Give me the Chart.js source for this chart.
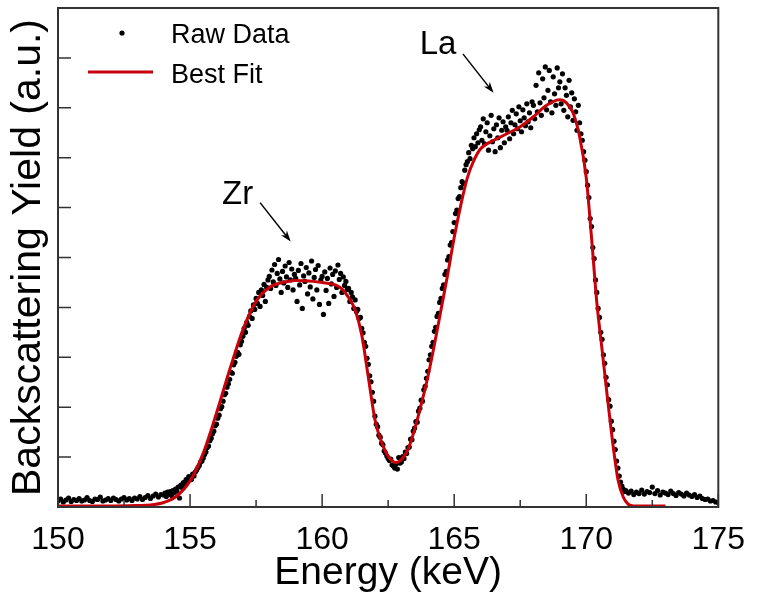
<!DOCTYPE html>
<html>
<head>
<meta charset="utf-8">
<title>RBS spectrum</title>
<script src="https://cdn.jsdelivr.net/npm/chart.js@4.4.0/dist/chart.umd.min.js"></script>
<style>
  html, body { margin: 0; padding: 0; background: #fff; }
  canvas { display: block; }
</style>
</head>
<body>
<canvas id="rbs" width="759" height="605"></canvas>
<script>
// Tick positions (keV and arbitrary yield units)
const xTickValues = [150, 155, 160, 165, 170, 175];
const xMinorTicks = [152.5, 157.5, 162.5, 167.5, 172.5];
const yTickValues = [1, 2, 3, 4, 5, 6, 7, 8, 9];

// Measured spectrum: energy (keV)
const rawEnergy = [
  150,150.1,150.2,150.3,150.4,150.5,150.6,150.7,150.8,150.9,
  151,151.1,151.2,151.3,151.4,151.5,151.6,151.7,151.8,151.9,
  152,152.1,152.2,152.3,152.4,152.5,152.6,152.7,152.8,152.9,
  153,153.1,153.2,153.3,153.4,153.5,153.6,153.7,153.8,153.9,
  154,154.05,154.1,154.15,154.2,154.25,154.3,154.35,154.4,154.45,154.5,154.55,154.6,154.65,154.7,154.75,154.8,154.85,154.9,154.95,
  155,155.05,155.1,155.15,155.2,155.25,155.3,155.35,155.4,155.45,155.5,155.55,155.6,155.65,155.7,155.75,155.8,155.85,155.9,155.95,
  156,156.05,156.1,156.15,156.2,156.25,156.3,156.35,156.4,156.45,156.5,156.55,156.6,156.65,156.7,156.75,156.8,156.85,156.9,156.95,
  157,157.05,157.1,157.15,157.2,157.25,157.3,157.35,157.4,157.45,157.5,157.55,157.6,157.65,157.7,157.75,157.8,157.85,157.9,157.95,
  158,158.05,158.1,158.15,158.2,158.25,158.3,158.35,158.4,158.45,158.5,158.55,158.6,158.65,158.7,158.75,158.8,158.85,158.9,158.95,
  159,159.05,159.1,159.15,159.2,159.25,159.3,159.35,159.4,159.45,159.5,159.55,159.6,159.65,159.7,159.75,159.8,159.85,159.9,159.95,
  160,160.05,160.1,160.15,160.2,160.25,160.3,160.35,160.4,160.45,160.5,160.55,160.6,160.65,160.7,160.75,160.8,160.85,160.9,160.95,
  161,161.05,161.1,161.15,161.2,161.25,161.3,161.35,161.4,161.45,161.5,161.55,161.6,161.65,161.7,161.75,161.8,161.85,161.9,161.95,
  162,162.05,162.1,162.15,162.2,162.25,162.3,162.35,162.4,162.45,162.5,162.55,162.6,162.65,162.7,162.75,162.8,162.85,162.9,162.95,
  163,163.05,163.1,163.15,163.2,163.25,163.3,163.35,163.4,163.45,163.5,163.55,163.6,163.65,163.7,163.75,163.8,163.85,163.9,163.95,
  164,164.05,164.1,164.15,164.2,164.25,164.3,164.35,164.4,164.45,164.5,164.55,164.6,164.65,164.7,164.75,164.8,164.85,164.9,164.95,
  165,165.05,165.1,165.15,165.2,165.25,165.3,165.35,165.4,165.45,165.5,165.55,165.6,165.65,165.7,165.75,165.8,165.85,165.9,165.95,
  166,166.05,166.1,166.15,166.2,166.25,166.3,166.35,166.4,166.45,166.5,166.55,166.6,166.65,166.7,166.75,166.8,166.85,166.9,166.95,
  167,167.05,167.1,167.15,167.2,167.25,167.3,167.35,167.4,167.45,167.5,167.55,167.6,167.65,167.7,167.75,167.8,167.85,167.9,167.95,
  168,168.05,168.1,168.15,168.2,168.25,168.3,168.35,168.4,168.45,168.5,168.55,168.6,168.65,168.7,168.75,168.8,168.85,168.9,168.95,
  169,169.05,169.1,169.15,169.2,169.25,169.3,169.35,169.4,169.45,169.5,169.55,169.6,169.65,169.7,169.75,169.8,169.85,169.9,169.95,
  170,170.05,170.1,170.15,170.2,170.25,170.3,170.35,170.4,170.45,170.5,170.55,170.6,170.65,170.7,170.75,170.8,170.85,170.9,170.95,
  171,171.05,171.1,171.15,171.2,171.25,171.3,171.35,171.4,171.45,171.5,
  171.6,171.7,171.8,171.9,172,172.1,172.2,172.3,172.4,172.5,
  172.6,172.7,172.8,172.9,173,173.1,173.2,173.3,173.4,173.5,
  173.6,173.7,173.8,173.9,174,174.1,174.2,174.3,174.4,174.5,
  174.6,174.7,174.8,174.9,175
];

// Measured spectrum: counts (a.u.)
const rawYield = [
  0.12,0.16,0.10,0.14,0.18,0.11,0.15,0.13,0.17,0.12,
  0.14,0.19,0.13,0.11,0.16,0.15,0.20,0.12,0.14,0.17,
  0.13,0.18,0.15,0.12,0.16,0.19,0.14,0.17,0.13,0.18,
  0.16,0.21,0.15,0.19,0.23,0.17,0.22,0.26,0.20,0.25,
  0.24,0.28,0.21,0.30,0.26,0.31,0.23,0.33,0.29,0.36,0.32,0.40,0.18,0.44,0.39,0.49,0.45,0.55,0.52,0.61,
  0.58,0.55,0.66,0.62,0.70,0.74,0.79,0.83,0.90,0.92,0.98,1.05,1.10,1.19,1.22,1.33,1.38,1.47,1.52,1.63,
  1.66,1.78,1.84,1.97,2.01,2.12,2.25,2.28,2.40,2.47,2.56,2.70,2.68,2.85,2.90,3.02,3.10,3.06,3.25,3.32,
  3.42,3.58,3.50,3.70,3.64,3.82,3.93,3.78,4.05,3.96,4.18,4.08,4.30,4.02,4.35,4.24,4.46,4.12,4.40,4.55,
  4.62,4.38,4.75,4.51,4.86,4.44,4.68,4.96,4.57,4.30,4.72,4.49,4.83,4.61,4.40,4.90,4.55,4.77,4.35,4.66,
  4.58,4.12,4.74,4.45,4.88,3.98,4.63,4.52,4.80,4.27,4.69,4.41,4.93,4.17,4.60,4.76,4.35,4.84,4.06,4.55,
  4.62,3.86,4.71,4.34,4.58,4.08,4.79,4.47,4.66,4.22,4.73,4.40,4.85,4.56,4.68,4.30,4.61,4.44,4.52,4.36,
  4.38,4.12,4.30,4.21,3.98,4.15,3.92,3.96,3.78,3.80,3.58,3.49,3.30,3.22,2.98,2.86,2.63,2.51,2.30,2.12,
  1.82,1.66,1.61,1.44,1.40,1.28,1.25,1.12,1.08,1.02,0.97,0.93,0.96,0.84,0.82,0.78,0.86,0.76,0.99,0.88,
  0.90,1.01,0.97,1.10,1.07,1.19,1.20,1.36,1.35,1.52,1.58,1.71,1.70,1.92,1.98,2.14,2.12,2.35,2.42,2.58,
  2.72,2.95,3.05,3.22,3.30,3.52,3.60,3.82,3.88,4.10,4.18,4.38,4.45,4.66,4.72,4.95,5.02,5.25,5.30,5.52,
  5.70,5.88,5.95,6.18,6.22,6.40,6.52,6.48,6.75,6.86,6.92,7.10,6.98,7.25,7.18,7.40,7.22,7.48,7.30,7.56,
  7.62,7.35,7.78,7.28,7.52,7.70,7.15,7.44,7.85,7.32,7.58,7.12,7.66,7.40,7.80,7.20,7.55,7.72,7.30,7.62,
  7.55,7.82,7.38,7.70,7.95,7.48,7.66,7.88,7.58,8.02,7.74,7.52,7.96,7.80,7.64,8.08,7.72,7.90,7.60,8.12,
  8.05,7.78,8.45,7.92,8.70,8.10,7.85,8.58,8.20,8.82,7.96,8.35,8.75,8.12,7.90,8.62,8.28,8.05,8.80,8.40,
  8.52,8.08,8.68,7.95,8.40,8.25,7.82,8.55,8.02,8.30,7.75,8.18,7.92,7.55,8.05,7.70,7.48,7.35,7.12,6.95,
  6.72,6.45,6.20,5.78,5.62,5.20,4.98,4.55,4.30,3.98,3.80,3.50,3.36,3.05,2.88,2.60,2.45,2.15,2.02,1.72,
  1.55,1.32,1.15,0.92,0.78,0.62,0.50,0.42,0.36,0.31,0.33,
  0.28,0.32,0.25,0.30,0.27,0.34,0.26,0.31,0.29,0.40,
  0.27,0.33,0.24,0.30,0.28,0.25,0.32,0.27,0.23,0.29,
  0.26,0.22,0.28,0.24,0.21,0.25,0.19,0.22,0.17,0.15,
  0.16,0.12,0.13,0.10,0.09
];

// Simulated best-fit spectrum
const fitEnergy = [
  150, 151, 152, 153, 153.5, 154, 154.5, 155, 155.5, 156, 156.5, 157, 157.5, 158, 158.5,
  159, 159.5, 160, 160.5, 160.75, 161, 161.25, 161.5, 161.75, 162, 162.25, 162.5, 162.8,
  163, 163.25, 163.5, 163.75, 164, 164.25, 164.5, 164.75, 165, 165.25, 165.5, 165.75,
  166, 166.5, 167, 167.5, 168, 168.5, 169, 169.25, 169.5, 169.75, 170, 170.2, 170.4,
  170.6, 170.8, 171, 171.2, 171.4, 171.6, 171.8, 172, 173
];
const fitYield = [
  0.02, 0.02, 0.02, 0.03, 0.04, 0.09, 0.22, 0.52, 1.08, 1.88, 2.75, 3.55, 4.12, 4.40, 4.50,
  4.54, 4.53, 4.50, 4.45, 4.37, 4.20, 3.95, 3.45, 2.60, 1.75, 1.30, 1.02, 0.89,
  0.95, 1.15, 1.55, 2.05, 2.60, 3.25, 3.95, 4.65, 5.40, 6.05, 6.60, 6.95,
  7.18, 7.35, 7.48, 7.62, 7.82, 8.05, 8.16, 8.10, 7.90, 7.42, 6.60, 5.40, 4.10,
  3.15, 2.20, 1.30, 0.55, 0.20, 0.05, 0.02, 0.02, 0.02
];

// Element labels with arrows (data coordinates)
const peakLabels = [
  { text: 'Zr', at: [156.80, 6.08], from: [157.65, 6.10], to: [158.81, 5.32] },
  { text: 'La', at: [164.39, 9.08], from: [165.33, 9.08], to: [166.49, 8.30] }
];

const FONT = '"Liberation Sans", Arial, Helvetica, sans-serif';
const FIT_RED = '#c8000a';
const AXIS_INK = '#333333';
const DOT_RADIUS = 2.6;

// Inward tick marks and the closed frame around the plot area
const framePlugin = {
  id: 'frame',
  afterDatasetsDraw(chart) {
    const { ctx, chartArea: a, scales: { x, y } } = chart;
    ctx.save();
    ctx.strokeStyle = AXIS_INK;
    ctx.lineWidth = 1.5;
    ctx.beginPath();
    xTickValues.forEach(v => {
      const px = x.getPixelForValue(v);
      ctx.moveTo(px, a.bottom);
      ctx.lineTo(px, a.bottom - 13);
    });
    xMinorTicks.forEach(v => {
      const px = x.getPixelForValue(v);
      ctx.moveTo(px, a.bottom);
      ctx.lineTo(px, a.bottom - 7);
    });
    yTickValues.forEach(v => {
      const py = y.getPixelForValue(v);
      ctx.moveTo(a.left, py);
      ctx.lineTo(a.left + 13, py);
    });
    ctx.stroke();
    ctx.lineWidth = 2;
    ctx.strokeRect(a.left, a.top, a.right - a.left, a.bottom - a.top);
    ctx.restore();
  }
};

// Legend box in the upper left and the peak annotations
const overlayPlugin = {
  id: 'overlay',
  afterDraw(chart) {
    const { ctx, scales: { x, y } } = chart;
    ctx.save();
    // legend
    ctx.fillStyle = '#000';
    ctx.beginPath();
    ctx.arc(122, 33, DOT_RADIUS, 0, Math.PI * 2);
    ctx.fill();
    ctx.strokeStyle = FIT_RED;
    ctx.lineWidth = 3;
    ctx.beginPath();
    ctx.moveTo(88, 72);
    ctx.lineTo(153, 72);
    ctx.stroke();
    ctx.font = `27px ${FONT}`;
    ctx.textAlign = 'left';
    ctx.textBaseline = 'alphabetic';
    ctx.fillText(chart.data.datasets[1].label, 171, 43);
    ctx.fillText(chart.data.datasets[0].label, 171, 83);

    // peak labels and arrows
    ctx.font = `33px ${FONT}`;
    ctx.textAlign = 'center';
    peakLabels.forEach(p => {
      ctx.fillStyle = '#000';
      ctx.fillText(p.text, x.getPixelForValue(p.at[0]), y.getPixelForValue(p.at[1]));
      const x0 = x.getPixelForValue(p.from[0]), y0 = y.getPixelForValue(p.from[1]);
      const x1 = x.getPixelForValue(p.to[0]), y1 = y.getPixelForValue(p.to[1]);
      const ang = Math.atan2(y1 - y0, x1 - x0);
      ctx.strokeStyle = '#000';
      ctx.lineWidth = 1.5;
      ctx.beginPath();
      ctx.moveTo(x0, y0);
      ctx.lineTo(x1 - 6 * Math.cos(ang), y1 - 6 * Math.sin(ang));
      ctx.stroke();
      const len = 11, half = 3.8;
      ctx.beginPath();
      ctx.moveTo(x1, y1);
      ctx.lineTo(x1 - len * Math.cos(ang) + half * Math.sin(ang), y1 - len * Math.sin(ang) - half * Math.cos(ang));
      ctx.lineTo(x1 - 0.7 * len * Math.cos(ang), y1 - 0.7 * len * Math.sin(ang));
      ctx.lineTo(x1 - len * Math.cos(ang) - half * Math.sin(ang), y1 - len * Math.sin(ang) + half * Math.cos(ang));
      ctx.closePath();
      ctx.fill();
    });
    ctx.restore();
  }
};

const rawPoints = rawEnergy.map((e, i) => ({ x: e, y: rawYield[i] }));
const fitPoints = fitEnergy.map((e, i) => ({ x: e, y: fitYield[i] }));

new Chart(document.getElementById('rbs'), {
  type: 'scatter',
  data: {
    datasets: [
      {
        label: 'Best Fit',
        data: fitPoints,
        showLine: true,
        borderColor: FIT_RED,
        borderWidth: 3,
        pointRadius: 0,
        cubicInterpolationMode: 'monotone',
        fill: false,
        order: 0
      },
      {
        label: 'Raw Data',
        data: rawPoints,
        backgroundColor: '#000',
        borderWidth: 0,
        pointRadius: DOT_RADIUS,
        order: 1
      }
    ]
  },
  options: {
    responsive: false,
    animation: false,
    devicePixelRatio: 1,
    layout: { padding: { top: 8, right: 34, bottom: 0, left: 0 } },
    plugins: { legend: { display: false }, tooltip: { enabled: false } },
    scales: {
      x: {
        type: 'linear',
        position: 'bottom',
        min: 150,
        max: 175,
        afterFit(scale) { scale.height = 98; },
        afterBuildTicks(scale) { scale.ticks = xTickValues.map(v => ({ value: v })); },
        ticks: {
          font: { family: FONT, size: 32 },
          color: '#000',
          padding: 14,
          maxRotation: 0,
          autoSkip: false
        },
        grid: { display: false, drawTicks: false },
        border: { display: false },
        title: {
          display: true,
          text: 'Energy (keV)',
          color: '#000',
          font: { family: FONT, size: 39 },
          padding: { top: 0, bottom: 8 }
        }
      },
      y: {
        type: 'linear',
        min: 0,
        max: 10,
        afterFit(scale) { scale.width = 58; },
        ticks: { display: false, stepSize: 1 },
        grid: { display: false, drawTicks: false },
        border: { display: false },
        title: {
          display: true,
          text: 'Backscattering Yield (a.u.)',
          color: '#000',
          font: { family: FONT, size: 41 },
          padding: { top: 4, bottom: 0 }
        }
      }
    }
  },
  plugins: [framePlugin, overlayPlugin]
});
</script>
</body>
</html>
